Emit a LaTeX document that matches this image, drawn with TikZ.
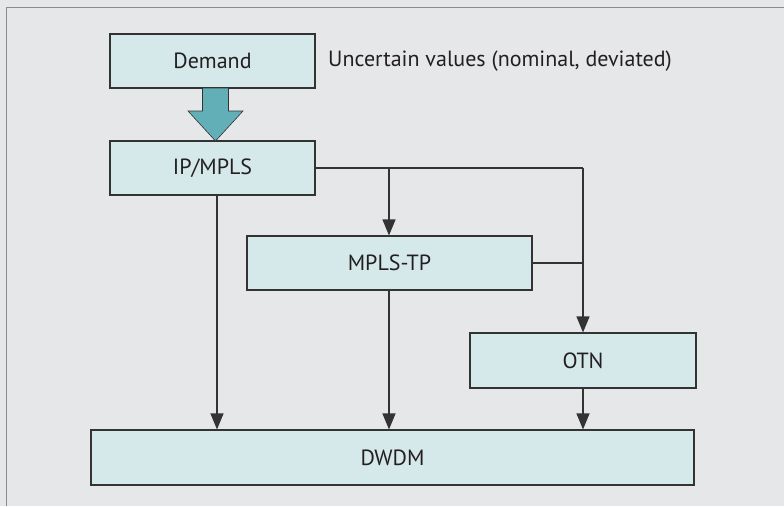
\documentclass[tikz,border=0pt]{standalone}
\usepackage{fontspec}
\setmainfont{PT Sans}
\usetikzlibrary{arrows.meta}
\definecolor{panelbg}{HTML}{E6E7E9}
\definecolor{panelline}{HTML}{8C8C8C}
\definecolor{boxfill}{HTML}{D5E8EA}
\definecolor{boxline}{HTML}{333333}
\definecolor{flowteal}{HTML}{62AFB8}
\definecolor{inktext}{HTML}{231F20}
\tikzset{
  labelfont/.style={text=inktext, font=\fontsize{22}{26}\selectfont},
  layer/.style={draw=boxline, fill=boxfill, line width=1.1pt, labelfont,
    inner sep=0pt, rectangle},
  link/.style={draw=boxline, line width=1.1pt},
  feed/.style={link, -{Triangle[length=16pt,width=13pt]}},
}
\begin{document}
\begin{tikzpicture}[x=1pt,y=-1pt]
  % panel background with left and top rule
  \fill[panelbg] (0,0) rectangle (784,506);
  \useasboundingbox (0,0) rectangle (784,506);
  \draw[panelline, line width=1.5pt] (6.5,506) -- (6.5,7.5) -- (784,7.5);

  % layers
  \node[layer, minimum width=205pt, minimum height=54pt] (demand) at (212.5,61) {Demand};
  \node[layer, minimum width=205pt, minimum height=54pt] (ip) at (212.5,168) {IP/MPLS};
  \node[layer, minimum width=285pt, minimum height=54pt] (tp) at (389.5,263) {MPLS-TP};
  \node[layer, minimum width=226pt, minimum height=55pt] (otn) at (583,360.5) {OTN};
  \node[layer, minimum width=603pt, minimum height=55pt] (dwdm) at (392.5,457.5) {DWDM};

  \node[anchor=west, labelfont, inner sep=0pt]
    (note) at (328,61) {Uncertain values (nominal, deviated)};

  % demand feeding into IP/MPLS
  \fill[flowteal, draw=boxline, line width=0.6pt]
    (202.5,88) -- (228.5,88) -- (228.5,111) -- (243,111) -- (215.5,141)
    -- (188,111) -- (202.5,111) -- cycle;

  % connectors
  \coordinate (rtop) at (583,168);
  \coordinate (rmid) at (583,263);
  \coordinate (split) at (389,168);
  \draw[link] (ip.east) -- (rtop);
  \draw[feed] (rtop) -- (otn.north);
  \draw[feed] (split) -- (split |- tp.north);
  \draw[link] (tp.east) -- (rmid);
  \draw[feed] (ip.south -| 217,0) -- (dwdm.north -| 217,0);
  \draw[feed] (tp.south -| 389,0) -- (dwdm.north -| 389,0);
  \draw[feed] (otn.south) -- (otn.south |- dwdm.north);
\end{tikzpicture}
\end{document}
